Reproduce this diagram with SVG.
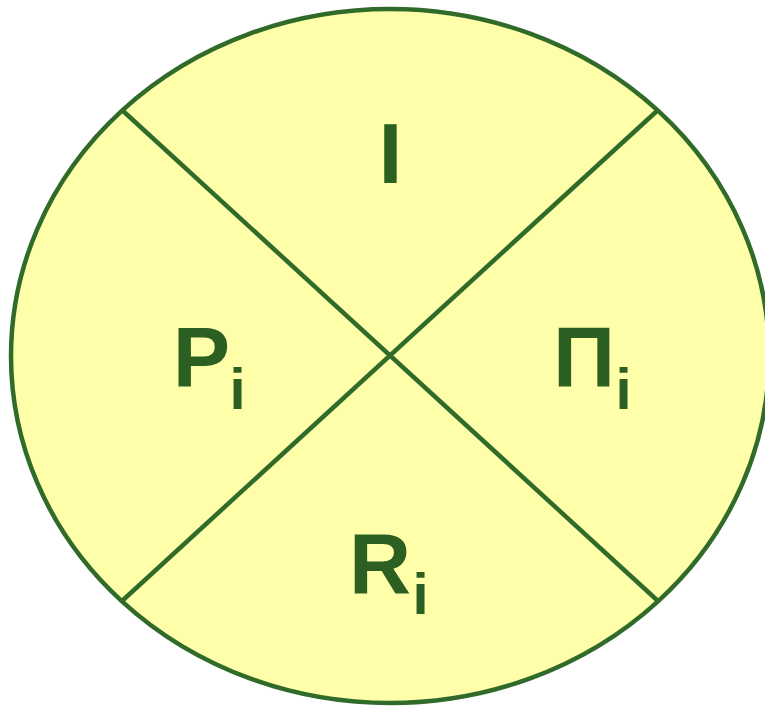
<svg xmlns="http://www.w3.org/2000/svg" width="765" height="706" viewBox="0 0 765 706">
<style>
.lbl{font-family:"Liberation Sans",Arial,sans-serif;font-weight:bold;fill:#2c5f22;text-anchor:middle}
.big{font-size:86px}
.sub{font-size:58px}
.ln{stroke:#306b29;stroke-width:4.5;fill:none}
</style>
<rect width="765" height="706" fill="#ffffff"/>
<g id="circle">
<ellipse cx="390" cy="356" rx="379" ry="347" fill="#ffffaa" stroke="#306b29" stroke-width="4.5"/>
</g>
<g id="connectors">
<line class="ln" x1="122" y1="110" x2="658" y2="601"/>
<line class="ln" x1="658" y1="110" x2="122" y2="601"/>
</g>
<g id="node-I"><text class="lbl big" x="390.5" y="183">I</text></g>
<g id="node-P"><text class="lbl big" x="201.5" y="387">P</text><text class="lbl sub" x="237.5" y="409">i</text></g>
<g id="node-Pi"><text class="lbl big" x="584" y="387">Π</text><text class="lbl sub" x="623.5" y="409">i</text></g>
<g id="node-R"><text class="lbl big" x="380" y="593">R</text><text class="lbl sub" x="420.5" y="614">i</text></g>
</svg>
